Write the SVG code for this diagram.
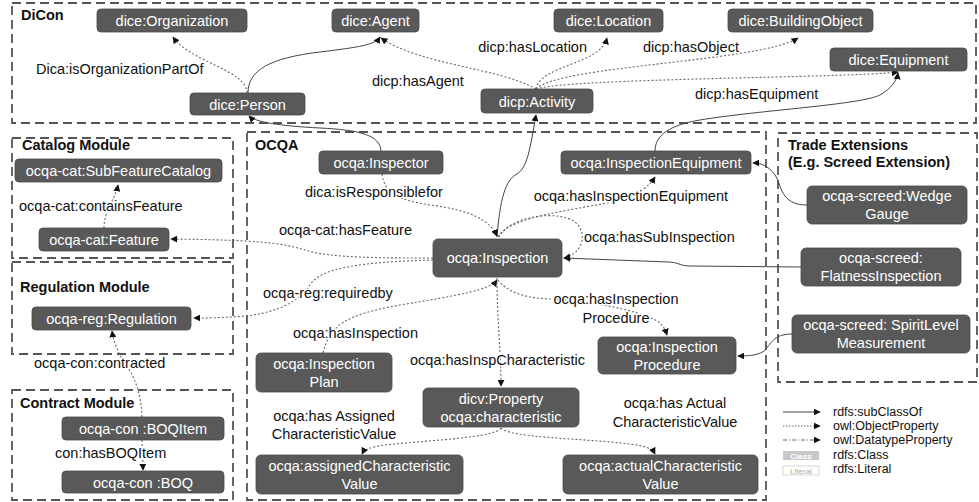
<svg xmlns="http://www.w3.org/2000/svg" width="979" height="502" viewBox="0 0 979 502">
<defs>
<style>
.bg{fill:#ffffff}
.box{fill:none;stroke:#555;stroke-width:1.8;stroke-dasharray:9,5}
.title{font-family:"Liberation Sans",Arial,sans-serif;font-size:14.5px;font-weight:bold;fill:#111}
.node rect{fill:#595959;stroke:#4a4a4a;stroke-width:0.8}
.node text{font-family:"Liberation Sans",Arial,sans-serif;font-size:14.5px;fill:#fff;text-anchor:middle}
.lbl{font-family:"Liberation Sans",Arial,sans-serif;font-size:14.5px;fill:#111;stroke:#fff;stroke-width:3;stroke-linejoin:round;paint-order:stroke}
.sub{fill:none;stroke:#444;stroke-width:1}
.obj{fill:none;stroke:#666;stroke-width:1.1;stroke-dasharray:2,2}
.leg{font-family:"Liberation Sans",Arial,sans-serif;font-size:12.5px;fill:#111}
</style>
<marker id="ar" viewBox="0 0 10 10" refX="9" refY="5" markerWidth="7" markerHeight="7" markerUnits="userSpaceOnUse" orient="auto">
<path d="M0,0 L10,5 L0,10 z" fill="#111"/>
</marker>
</defs>
<rect class="bg" x="0" y="0" width="979" height="502"/>

<g id="modules">
<rect class="box" x="12" y="3" width="964" height="120"/>
<text class="title" x="21" y="20">DiCon</text>
<rect class="box" x="12" y="138" width="221" height="120"/>
<text class="title" x="22" y="150">Catalog Module</text>
<rect class="box" x="12" y="262" width="221" height="92"/>
<text class="title" x="20" y="292">Regulation Module</text>
<rect class="box" x="12" y="390" width="221" height="110"/>
<text class="title" x="20" y="408">Contract Module</text>
<rect class="box" x="247" y="132" width="519" height="368"/>
<text class="title" x="255" y="150">OCQA</text>
<rect class="box" x="778" y="133" width="199" height="249"/>
<text class="title" x="788" y="150">Trade Extensions</text>
<text class="title" x="788" y="167">(E.g. Screed Extension)</text>
</g>

<g id="connectors">
<!-- DiCon -->
<path class="obj" d="M247,93 C247,70 190,62 173,37" marker-end="url(#ar)"/>
<path class="sub" d="M248,93 C248,70 270,58 320,52 C360,47 375,45 380,37" marker-end="url(#ar)"/>
<path class="obj" d="M536,89 C500,68 420,65 381,38" marker-end="url(#ar)"/>
<path class="obj" d="M536,89 C540,65 600,65 607,38" marker-end="url(#ar)"/>
<path class="obj" d="M536,89 C560,65 760,62 798,38" marker-end="url(#ar)"/>
<path class="obj" d="M536,89 C570,78 850,78 898,72" marker-end="url(#ar)"/>
<path class="sub" d="M655,151 C655,135 670,125 700,120 C760,110 860,105 880,95 C892,88 897,80 898,73" marker-end="url(#ar)"/>
<path class="sub" d="M381,151 C380,135 360,130 320,128 C280,126 255,122 249,116" marker-end="url(#ar)"/>
<path class="sub" d="M497,237 C500,200 505,180 517,174 C527,168 530,150 536,115" marker-end="url(#ar)"/>
<!-- OCQA -->
<path class="obj" d="M382,174 C385,195 400,200 430,205 C470,210 490,220 497,236" marker-end="url(#ar)"/>
<path class="obj" d="M498,237 C510,215 580,210 620,200 C640,194 650,185 655,177" marker-end="url(#ar)"/>
<path class="obj" d="M499,237 C510,215 560,210 575,222 C590,235 580,255 564,258" marker-end="url(#ar)"/>
<path class="sub" d="M801,267 L690,266 C680,266 678,262 668,262 L564,258" marker-end="url(#ar)"/>
<path class="sub" d="M807,205 C780,205 782,185 775,175 C768,165 760,163 753,163" marker-end="url(#ar)"/>
<path class="sub" d="M792,334 C775,334 772,342 765,350 C760,355 750,356 738,356" marker-end="url(#ar)"/>
<path class="obj" d="M433,258 C380,258 330,258 305,250 C280,242 250,240 171,239" marker-end="url(#ar)"/>
<path class="obj" d="M433,260 C360,262 320,268 310,285 C300,300 280,312 246,316 C220,318 205,318 194,318" marker-end="url(#ar)"/>
<path class="obj" d="M323,353 C330,325 345,315 400,305 C460,295 490,290 497,280" marker-end="url(#ar)"/>
<path class="obj" d="M497,278 C497,320 501,350 501,386" marker-end="url(#ar)"/>
<path class="obj" d="M498,280 C510,295 530,298 550,299 C600,302 640,312 650,318 C658,320 664,325 667,335" marker-end="url(#ar)"/>
<path class="obj" d="M501,428 C495,438 430,440 385,445 C370,447 364,450 362,454" marker-end="url(#ar)"/>
<path class="obj" d="M501,428 C510,438 580,438 630,444 C645,446 652,448 655,454" marker-end="url(#ar)"/>
<!-- modules -->
<path class="obj" d="M104,228 C104,210 115,200 118,185" marker-end="url(#ar)"/>
<path class="obj" d="M142,417 C141,395 136,380 128,368 C120,356 114,345 112,331" marker-end="url(#ar)"/>
<path class="obj" d="M142,440 L143,470" marker-end="url(#ar)"/>
</g>

<g id="labels">
<text class="lbl" x="36" y="74">Dica:isOrganizationPartOf</text>
<text class="lbl" x="372" y="86">dicp:hasAgent</text>
<text class="lbl" x="587" y="52" text-anchor="end">dicp:hasLocation</text>
<text class="lbl" x="643" y="52">dicp:hasObject</text>
<text class="lbl" x="695" y="99">dicp:hasEquipment</text>
<text class="lbl" x="19" y="211">ocqa-cat:containsFeature</text>
<text class="lbl" x="34" y="368">ocqa-con:contracted</text>
<text class="lbl" x="55" y="458">con:hasBOQItem</text>
<text class="lbl" x="305" y="197">dica:isResponsiblefor</text>
<text class="lbl" x="728" y="201" text-anchor="end">ocqa:hasInspectionEquipment</text>
<text class="lbl" x="279" y="235">ocqa-cat:hasFeature</text>
<text class="lbl" x="584" y="242">ocqa:hasSubInspection</text>
<text class="lbl" x="263" y="298">ocqa-reg:requiredby</text>
<text class="lbl" x="616" y="304" text-anchor="middle">ocqa:hasInspection</text>
<text class="lbl" x="616" y="323" text-anchor="middle">Procedure</text>
<text class="lbl" x="293" y="338">ocqa:hasInspection</text>
<text class="lbl" x="410" y="365">ocqa:hasInspCharacteristic</text>
<text class="lbl" x="334" y="421" text-anchor="middle">ocqa:has Assigned</text>
<text class="lbl" x="334" y="439" text-anchor="middle">CharacteristicValue</text>
<text class="lbl" x="675" y="408" text-anchor="middle">ocqa:has Actual</text>
<text class="lbl" x="675" y="427" text-anchor="middle">CharacteristicValue</text>
</g>

<g id="n-organization" class="node"><rect x="97" y="9" width="150" height="23" rx="4"/><text x="172" y="26">dice:Organization</text></g>
<g id="n-agent" class="node"><rect x="332" y="9" width="87" height="23" rx="4"/><text x="375.5" y="26">dice:Agent</text></g>
<g id="n-location" class="node"><rect x="554" y="9" width="109" height="23" rx="4"/><text x="608.5" y="26">dice:Location</text></g>
<g id="n-buildingobject" class="node"><rect x="728" y="9" width="145" height="23" rx="4"/><text x="800.5" y="26">dice:BuildingObject</text></g>
<g id="n-equipment" class="node"><rect x="830" y="48" width="137" height="23" rx="4"/><text x="898.5" y="65">dice:Equipment</text></g>
<g id="n-person" class="node"><rect x="190" y="93" width="115" height="22" rx="4"/><text x="247.5" y="109.5">dice:Person</text></g>
<g id="n-activity" class="node"><rect x="481" y="89" width="112" height="24" rx="4"/><text x="537" y="106.5">dicp:Activity</text></g>
<g id="n-subfeaturecatalog" class="node"><rect x="15" y="159" width="207" height="23" rx="4"/><text x="118.5" y="176">ocqa-cat:SubFeatureCatalog</text></g>
<g id="n-feature" class="node"><rect x="39" y="228" width="130" height="23" rx="4"/><text x="104" y="245">ocqa-cat:Feature</text></g>
<g id="n-regulation" class="node"><rect x="32" y="307" width="159" height="23" rx="4"/><text x="111.5" y="324">ocqa-reg:Regulation</text></g>
<g id="n-boqitem" class="node"><rect x="62" y="417" width="162" height="23" rx="4"/><text x="143" y="434">ocqa-con :BOQItem</text></g>
<g id="n-boq" class="node"><rect x="62" y="471" width="162" height="22" rx="4"/><text x="143" y="487.5">ocqa-con :BOQ</text></g>
<g id="n-inspector" class="node"><rect x="319" y="151" width="124" height="23" rx="4"/><text x="381" y="168">ocqa:Inspector</text></g>
<g id="n-inspectionequipment" class="node"><rect x="561" y="151" width="190" height="23" rx="4"/><text x="656" y="168">ocqa:InspectionEquipment</text></g>
<g id="n-inspection" class="node"><rect x="433" y="239" width="129" height="38" rx="5"/><text x="497.5" y="263">ocqa:Inspection</text></g>
<g id="n-wedgegauge" class="node"><rect x="807" y="186" width="160" height="38" rx="5"/><text x="887" y="201">ocqa-screed:Wedge</text><text x="887" y="219">Gauge</text></g>
<g id="n-flatness" class="node"><rect x="801" y="248" width="160" height="38" rx="5"/><text x="881" y="263">ocqa-screed:</text><text x="881" y="281">FlatnessInspection</text></g>
<g id="n-spiritlevel" class="node"><rect x="792" y="315" width="178" height="38" rx="5"/><text x="881" y="330">ocqa-screed: SpiritLevel</text><text x="881" y="348">Measurement</text></g>
<g id="n-procedure" class="node"><rect x="598" y="337" width="138" height="37" rx="5"/><text x="667" y="352">ocqa:Inspection</text><text x="667" y="370">Procedure</text></g>
<g id="n-plan" class="node"><rect x="256" y="353" width="136" height="39" rx="5"/><text x="324" y="369">ocqa:Inspection</text><text x="324" y="387">Plan</text></g>
<g id="n-property" class="node"><rect x="423" y="388" width="156" height="39" rx="5"/><text x="501" y="404">dicv:Property</text><text x="501" y="422">ocqa:characteristic</text></g>
<g id="n-assigned" class="node"><rect x="256" y="455" width="207" height="39" rx="5"/><text x="359.5" y="471">ocqa:assignedCharacteristic</text><text x="359.5" y="489">Value</text></g>
<g id="n-actual" class="node"><rect x="563" y="455" width="195" height="39" rx="5"/><text x="660.5" y="471">ocqa:actualCharacteristic</text><text x="660.5" y="489">Value</text></g>

<g id="legend">
<path d="M783,412 L820,412" stroke="#444" stroke-width="1" marker-end="url(#ar)"/>
<path d="M783,426 L820,426" stroke="#666" stroke-width="1" stroke-dasharray="1.5,1.5" marker-end="url(#ar)"/>
<path d="M783,440 L820,440" stroke="#666" stroke-width="1" stroke-dasharray="4,2,1,2" marker-end="url(#ar)"/>
<rect x="783" y="451" width="36" height="9" fill="#c8c8c8"/>
<text x="801" y="458.5" font-family="Liberation Sans,Arial,sans-serif" font-size="8" fill="#fff" text-anchor="middle" font-weight="bold">Class</text>
<rect x="783" y="466" width="36" height="9" fill="#fff" stroke="#ccc" stroke-width="0.8"/>
<text x="801" y="473.5" font-family="Liberation Sans,Arial,sans-serif" font-size="8" fill="#aaa" text-anchor="middle">Literal</text>
<text class="leg" x="833" y="416">rdfs:subClassOf</text>
<text class="leg" x="833" y="430">owl:ObjectProperty</text>
<text class="leg" x="833" y="444">owl:DatatypeProperty</text>
<text class="leg" x="833" y="459">rdfs:Class</text>
<text class="leg" x="833" y="473">rdfs:Literal</text>
</g>
</svg>
